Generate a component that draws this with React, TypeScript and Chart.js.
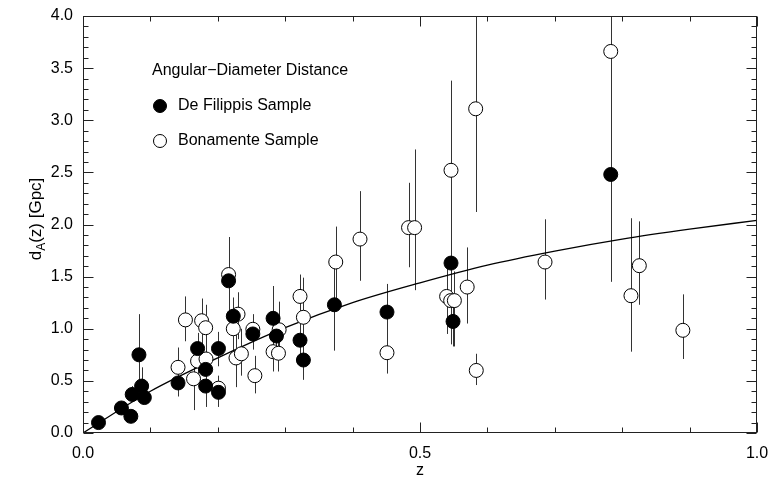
import React, { useEffect, useRef } from "react";
import { Chart, registerables } from "chart.js";

Chart.register(...registerables);

const FONT = '"Liberation Sans", Arial, Helvetica, sans-serif';

// De Filippis sample: redshift, distance [Gpc], error bar bounds
const defZ = [0.023, 0.057, 0.071, 0.073, 0.083, 0.087, 0.091, 0.141, 0.170, 0.182, 0.182, 0.201, 0.201, 0.216, 0.223, 0.252, 0.282, 0.287, 0.322, 0.327, 0.373, 0.451, 0.546, 0.549, 0.783];
const defD = [0.10, 0.24, 0.16, 0.37, 0.75, 0.45, 0.34, 0.48, 0.81, 0.61, 0.45, 0.81, 0.39, 1.46, 1.12, 0.95, 1.10, 0.93, 0.89, 0.70, 1.23, 1.16, 1.63, 1.07, 2.48];
const defLo = [0.08, 0.20, 0.13, 0.30, 0.45, 0.38, 0.28, 0.35, 0.60, 0.45, 0.25, 0.64, 0.25, 1.10, 0.85, 0.80, 0.80, 0.75, 0.65, 0.51, 0.79, 0.90, 1.25, 0.83, 1.45];
const defHi = [0.12, 0.28, 0.19, 0.45, 1.14, 0.63, 0.40, 0.58, 0.96, 0.75, 0.60, 0.97, 0.45, 1.88, 1.30, 1.14, 1.41, 1.10, 1.20, 0.85, 1.64, 1.43, 2.02, 1.30, 3.50];

// Bonamente sample
const bonZ = [0.141, 0.152, 0.164, 0.170, 0.176, 0.182, 0.1825, 0.201, 0.216, 0.230, 0.223, 0.227, 0.235, 0.252, 0.255, 0.282, 0.290, 0.291, 0.322, 0.327, 0.375, 0.411, 0.483, 0.492, 0.451, 0.546, 0.5395, 0.5455, 0.551, 0.570, 0.5826, 0.5835, 0.6855, 0.783, 0.813, 0.8254, 0.890];
const bonD = [0.63, 1.085, 0.52, 0.69, 1.077, 1.01, 0.71, 0.43, 1.52, 1.14, 1.00, 0.72, 0.76, 0.995, 0.55, 0.78, 0.765, 0.99, 1.31, 1.11, 1.64, 1.86, 1.97, 1.97, 0.77, 2.52, 1.31, 1.27, 1.27, 1.40, 3.11, 0.60, 1.64, 3.66, 1.317, 1.605, 0.985];
const bonLo = [0.45, 0.88, 0.22, 0.55, 0.85, 0.68, 0.55, 0.30, 1.20, 0.90, 0.75, 0.44, 0.55, 0.85, 0.38, 0.59, 0.59, 0.80, 1.05, 0.90, 1.25, 1.46, 1.59, 1.37, 0.57, 1.64, 0.95, 0.85, 0.83, 1.05, 2.12, 0.46, 1.28, 2.48, 0.78, 1.23, 0.71];
const bonHi = [0.82, 1.31, 0.68, 0.85, 1.29, 1.23, 0.90, 0.55, 1.85, 1.35, 1.20, 0.95, 1.00, 1.10, 0.74, 1.00, 0.95, 1.26, 1.52, 1.49, 1.98, 2.32, 2.40, 2.72, 1.00, 3.38, 1.60, 1.55, 1.55, 1.78, 4.60, 0.76, 2.05, 4.80, 2.06, 2.03, 1.33];

// Model angular-diameter distance curve
const curveZ = [0, 0.1, 0.2, 0.3, 0.4, 0.5, 0.6, 0.7, 0.8, 0.9, 1.0];
const curveD = [0, 0.40, 0.72, 1.01, 1.25, 1.44, 1.61, 1.745, 1.86, 1.955, 2.04];

const legendTitle = "Angular\u2212Diameter Distance";
const seriesNames = ["De Filippis Sample", "Bonamente Sample"];

const pts = (xs: number[], ys: number[]) => xs.map((x, i) => ({ x, y: ys[i] }));

// vertical error bars behind the markers
const errorBars = {
  id: "errorBars",
  beforeDatasetsDraw(chart: any) {
    const { ctx, chartArea: a, scales } = chart;
    ctx.save();
    ctx.beginPath();
    ctx.rect(a.left, a.top, a.right - a.left, a.bottom - a.top);
    ctx.clip();
    ctx.strokeStyle = "#333";
    ctx.lineWidth = 1;
    chart.data.datasets.forEach((ds: any) => {
      if (!ds.errLo) return;
      ds.data.forEach((p: any, i: number) => {
        const x = Math.round(scales.x.getPixelForValue(p.x)) + 0.5;
        ctx.beginPath();
        ctx.moveTo(x, scales.y.getPixelForValue(ds.errLo[i]));
        ctx.lineTo(x, scales.y.getPixelForValue(ds.errHi[i]));
        ctx.stroke();
      });
    });
    ctx.restore();
  },
};

// frame, inward ticks on all sides, axis titles and legend
const decorations = {
  id: "decorations",
  afterDraw(chart: any) {
    const { ctx, chartArea: a, scales } = chart;
    const L = a.left + 0.5, R = a.right - 0.5, T = a.top + 0.5, B = a.bottom - 0.5;
    ctx.save();
    ctx.strokeStyle = "#222";
    ctx.lineWidth = 1;
    ctx.strokeRect(L, T, R - L, B - T);

    ctx.beginPath();
    for (let i = 0; i <= 10; i++) {
      const v = i / 10;
      const len = i % 5 === 0 ? 10 : 5;
      const x = Math.round(scales.x.getPixelForValue(v)) + 0.5;
      ctx.moveTo(x, B); ctx.lineTo(x, B - len);
      ctx.moveTo(x, T); ctx.lineTo(x, T + len);
    }
    for (let i = 0; i <= 40; i++) {
      const v = i / 10;
      const len = i % 5 === 0 ? 10 : 5;
      const y = Math.round(scales.y.getPixelForValue(v)) + 0.5;
      ctx.moveTo(L, y); ctx.lineTo(L + len, y);
      ctx.moveTo(R, y); ctx.lineTo(R - len, y);
    }
    ctx.stroke();

    ctx.fillStyle = "#000";
    // x title
    ctx.font = `16px ${FONT}`;
    ctx.textAlign = "center";
    ctx.textBaseline = "middle";
    ctx.fillText("z", (a.left + a.right) / 2, 471);

    // y title with subscript
    ctx.save();
    ctx.translate(35, 219);
    ctx.rotate(-Math.PI / 2);
    const big = `17px ${FONT}`;
    const small = `12px ${FONT}`;
    ctx.font = big;
    const w1 = ctx.measureText("d").width;
    const w3 = ctx.measureText("(z) [Gpc]").width;
    ctx.font = small;
    const w2 = ctx.measureText("A").width;
    const x0 = -(w1 + w2 + w3) / 2;
    ctx.textAlign = "left";
    ctx.textBaseline = "alphabetic";
    ctx.font = big;
    ctx.fillText("d", x0, 6);
    ctx.font = small;
    ctx.fillText("A", x0 + w1, 10);
    ctx.font = big;
    ctx.fillText("(z) [Gpc]", x0 + w1 + w2, 6);
    ctx.restore();

    // legend
    ctx.font = `16px ${FONT}`;
    ctx.textAlign = "left";
    ctx.textBaseline = "middle";
    ctx.fillText(legendTitle, 152, 71);
    ctx.fillText(seriesNames[0], 178, 106);
    ctx.fillText(seriesNames[1], 178, 141);
    ctx.lineWidth = 1;
    ctx.strokeStyle = "#000";
    ctx.beginPath();
    ctx.arc(160, 106, 6.5, 0, Math.PI * 2);
    ctx.fillStyle = "#000";
    ctx.fill();
    ctx.stroke();
    ctx.beginPath();
    ctx.arc(160, 141, 6.5, 0, Math.PI * 2);
    ctx.fillStyle = "#fff";
    ctx.fill();
    ctx.stroke();
    ctx.restore();
  },
};

export default function App() {
  const ref = useRef<HTMLCanvasElement | null>(null);

  useEffect(() => {
    if (!ref.current) return;
    document.body.style.margin = "0";
    const chart = new Chart(ref.current, {
      type: "scatter",
      data: {
        datasets: [
          {
            label: seriesNames[0],
            data: pts(defZ, defD),
            errLo: defLo,
            errHi: defHi,
            pointRadius: 7,
            pointBackgroundColor: "#000",
            pointBorderColor: "#000",
            pointBorderWidth: 1,
          } as any,
          {
            label: seriesNames[1],
            data: pts(bonZ, bonD),
            errLo: bonLo,
            errHi: bonHi,
            pointRadius: 7,
            pointBackgroundColor: "#fff",
            pointBorderColor: "#000",
            pointBorderWidth: 1,
          } as any,
          {
            label: "model",
            data: pts(curveZ, curveD),
            showLine: true,
            pointRadius: 0,
            borderColor: "#000",
            borderWidth: 1.3,
            cubicInterpolationMode: "monotone",
            fill: false,
          } as any,
        ],
      },
      options: {
        responsive: false,
        animation: false,
        devicePixelRatio: 1,
        layout: { padding: { top: 16, right: 15, bottom: 0, left: 0 } },
        plugins: { legend: { display: false }, tooltip: { enabled: false } },
        scales: {
          x: {
            type: "linear",
            min: 0,
            max: 1,
            grid: { display: false, drawTicks: false },
            border: { display: false },
            ticks: {
              stepSize: 0.5,
              padding: 11,
              color: "#000",
              font: { family: FONT, size: 16 },
              maxRotation: 0,
              callback: (v: any) => Number(v).toFixed(1),
            },
            afterFit: (s: any) => {
              s.height = 48;
              s.paddingLeft = 0;
              s.paddingRight = 0;
            },
          },
          y: {
            type: "linear",
            min: 0,
            max: 4,
            grid: { display: false, drawTicks: false },
            border: { display: false },
            ticks: {
              stepSize: 0.5,
              padding: 10,
              color: "#000",
              font: { family: FONT, size: 16 },
              callback: (v: any) => Number(v).toFixed(1),
            },
            afterFit: (s: any) => {
              s.width = 83;
              s.paddingTop = 0;
              s.paddingBottom = 0;
            },
          },
        },
      },
      plugins: [errorBars, decorations],
    });
    return () => chart.destroy();
  }, []);

  return (
    <div style={{ position: "absolute", left: 0, top: 0, width: 772, height: 481, background: "#fff" }}>
      <canvas ref={ref} width={772} height={481} />
    </div>
  );
}
